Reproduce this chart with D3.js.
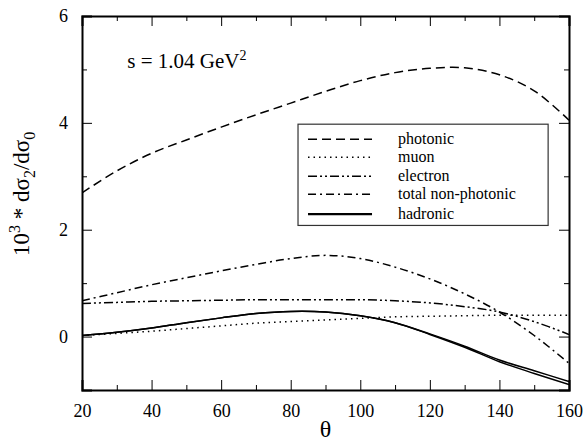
<!DOCTYPE html>
<html>
  <head>
    <style>
      body { margin: 0; background: #fff; }
      svg text { font-family: 'Liberation Serif', 'Times New Roman', Times, serif; fill: #000; }
      .curve { fill: none; stroke: #000; stroke-width: 1.5px; }
      .axis path { stroke: #000; stroke-width: 2px; }
      .axis line { stroke: #000; stroke-width: 1px; }
      .axis text { font-size: 18px; }
    </style>
    <script src="https://d3js.org/d3.v7.min.js"></script>
  </head>
  <body>
    <svg class="chart"></svg>

    <script>
      const theta = [20, 30, 40, 50, 60, 70, 80, 90, 100, 110, 120, 130, 140, 150, 160];
      const photonic = [2.69, 3.1, 3.43, 3.68, 3.92, 4.15, 4.37, 4.59, 4.79, 4.94, 5.02, 5.03, 4.9, 4.6, 4.05];
      const muon = [0.02, 0.06, 0.1, 0.15, 0.2, 0.25, 0.28, 0.31, 0.34, 0.37, 0.38, 0.39, 0.4, 0.4, 0.4];
      const electron = [0.62, 0.64, 0.66, 0.67, 0.68, 0.69, 0.69, 0.69, 0.69, 0.67, 0.63, 0.56, 0.46, 0.28, 0.04];
      const nonPhotonic = [0.67, 0.82, 0.97, 1.1, 1.23, 1.35, 1.46, 1.52, 1.46, 1.3, 1.08, 0.8, 0.46, 0.02, -0.5];
      const hadronic = [0.02, 0.08, 0.16, 0.26, 0.35, 0.43, 0.47, 0.46, 0.39, 0.26, 0.05, -0.18, -0.44, -0.64, -0.84];
      const hadronicB = [0.02, 0.08, 0.16, 0.26, 0.35, 0.43, 0.47, 0.46, 0.39, 0.26, 0.04, -0.2, -0.47, -0.69, -0.9];

      const xMajor = [20, 40, 60, 80, 100, 120, 140, 160];
      const xMinor = [30, 50, 70, 90, 110, 130, 150];
      const yMajor = [0, 2, 4, 6];
      const yMinor = [-1, 1, 3, 5];

      const series = [
        { name: 'photonic', values: photonic, dash: '9,5', width: 1.5 },
        { name: 'muon', values: muon, dash: '1.5,4', width: 1.5 },
        { name: 'electron', values: electron, dash: '9,3,2,3,2,3', width: 1.5 },
        { name: 'total non-photonic', values: nonPhotonic, dash: '8,4,2,4', width: 1.5 },
        { name: 'hadronic', values: hadronic, dash: null, width: 2.2 },
        { name: null, values: hadronicB, dash: null, width: 1.2 }
      ];
      const legendRowY = [15, 33, 52, 70, 90];

      const width = 584;
      const height = 442;
      const margin = { top: 16, right: 15, bottom: 52, left: 82 };
      const w = width - margin.left - margin.right;
      const h = height - margin.top - margin.bottom;

      const svg = d3.select('svg')
        .attr('width', width)
        .attr('height', height)
        .append('g')
        .attr('transform', `translate(${margin.left},${margin.top})`);

      const x = d3.scaleLinear().domain([20, 160]).range([0, w]);
      const y = d3.scaleLinear().domain([-1, 6]).range([h, 0]);

      // axes, ticks pointing inward on all four sides
      const axes = [
        [d3.axisBottom, x, `translate(0,${h})`, true],
        [d3.axisTop, x, 'translate(0,0)', false],
        [d3.axisLeft, y, 'translate(0,0)', true],
        [d3.axisRight, y, `translate(${w},0)`, false]
      ];
      axes.forEach(([fn, sc, tr, labels]) => {
        const isX = sc === x;
        const g = svg.append('g').attr('class', 'axis').attr('transform', tr);
        g.call(fn(sc).tickValues(isX ? xMajor : yMajor).tickSize(-10).tickPadding(labels ? 14 : 0)
          .tickFormat(labels ? d3.format('d') : ''));
        g.attr('font-family', null).attr('font-size', null);
        g.append('g').call(fn(sc).tickValues(isX ? xMinor : yMinor).tickSize(-5).tickFormat(''))
          .select('.domain').remove();
      });

      const line = d3.line()
        .x((d, i) => x(theta[i]))
        .y(d => y(d))
        .curve(d3.curveCatmullRom);

      svg.append('defs').append('clipPath').attr('id', 'clip')
        .append('rect').attr('width', w).attr('height', h);

      svg.append('g').attr('clip-path', 'url(#clip)')
        .selectAll('path')
        .data(series)
        .join('path')
        .attr('class', 'curve')
        .attr('d', d => line(d.values))
        .attr('stroke-dasharray', d => d.dash)
        .attr('stroke-width', d => d.width);

      // legend
      const legend = svg.append('g').attr('transform', `translate(${x(82.1)},${y(3.975)})`);
      const entries = series.filter(d => d.name);
      legend.append('rect')
        .attr('width', x(154) - x(82.1))
        .attr('height', y(2.08) - y(3.975))
        .attr('fill', '#fff')
        .attr('stroke', '#333')
        .attr('stroke-width', 1.2);
      const rows = legend.selectAll('g.row').data(entries).join('g')
        .attr('class', 'row')
        .attr('transform', (d, i) => `translate(0,${legendRowY[i]})`);
      rows.append('line')
        .attr('x1', 10).attr('x2', 74).attr('y1', 0).attr('y2', 0)
        .attr('stroke', '#000')
        .attr('stroke-width', d => d.width)
        .attr('stroke-dasharray', d => d.dash);
      rows.append('text')
        .attr('x', 100).attr('y', 5)
        .attr('font-size', 16)
        .text(d => d.name);

      // annotation
      const note = svg.append('text')
        .attr('x', x(33)).attr('y', y(5.03))
        .attr('font-size', 21);
      note.append('tspan').text('s = 1.04 GeV');
      note.append('tspan').attr('dy', -8).attr('font-size', 14).text('2');

      // axis labels
      svg.append('text')
        .attr('x', w / 2).attr('y', h + 47)
        .attr('text-anchor', 'middle')
        .attr('font-size', 24)
        .text('θ');

      const yl = svg.append('text')
        .attr('transform', `translate(${-53},${y(2.67)}) rotate(-90)`)
        .attr('text-anchor', 'middle')
        .attr('font-size', 23);
      yl.append('tspan').text('10');
      yl.append('tspan').attr('dy', -9).attr('font-size', 16).text('3');
      yl.append('tspan').attr('dy', 9).text(' * dσ');
      yl.append('tspan').attr('dy', 6).attr('font-size', 16).text('2');
      yl.append('tspan').attr('dy', -6).text('/dσ');
      yl.append('tspan').attr('dy', 6).attr('font-size', 16).text('0');
    </script>
  </body>
</html>
